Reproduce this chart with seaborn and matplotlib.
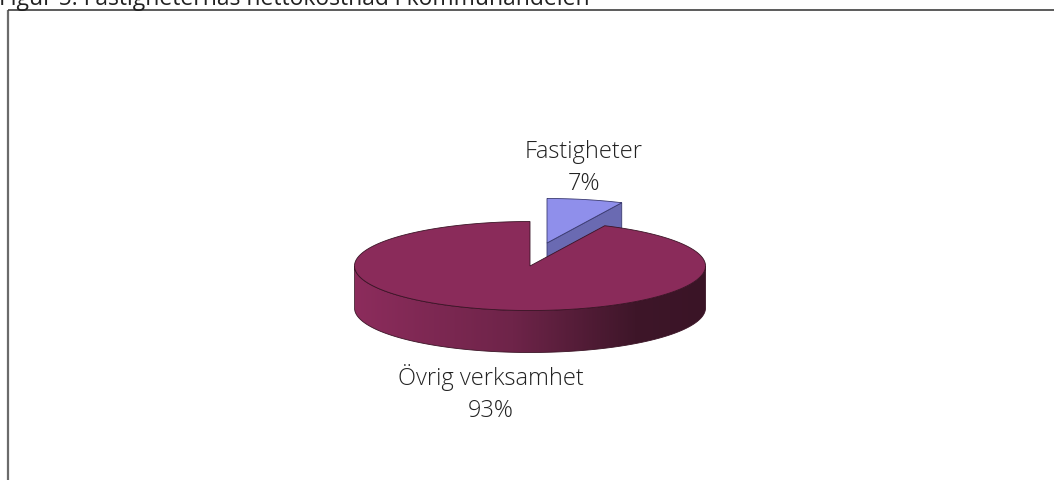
import numpy as np
import matplotlib
matplotlib.use("Agg")
import matplotlib.pyplot as plt
from matplotlib.patches import Polygon
from matplotlib.colors import LinearSegmentedColormap
import seaborn as sns

# ---- data ----
categories = ["Fastigheter", "Övrig verksamhet"]
values = [7, 93]
title = "Figur 5: Fastigheternas nettokostnad i kommunandelen"

sns.set_theme(style="white")
plt.rcParams['font.family'] = ['Open Sans', 'DejaVu Sans']

top_colors = sns.color_palette(["#8F8FEB", "#8A2B5A"])
side_colors = sns.color_palette(["#6A6AB2", "#8A2B5A"])
edge_colors = ["#3A3A70", "#3B1426"]

W, H = 1054, 481
fig = plt.figure(figsize=(W / 100, H / 100), dpi=100)
ax = fig.add_axes([0, 0, 1, 1])
ax.set_xlim(0, W)
ax.set_ylim(H, 0)
ax.axis("off")

# frame
ax.plot([7.5, 7.5], [10.5, H + 5], color="#6b6b6b", lw=1.6, solid_capstyle="butt")
ax.plot([7.5, W + 5], [10.5, 10.5], color="#404040", lw=1.2, solid_capstyle="butt")

# title (partly cut off at the top as in the original)
ax.text(-1, 5, title, fontsize=16.5, color="#222222", ha="left", va="baseline")

# ---- 3D pie geometry ----
cx, cy = 530.0, 267.0
rx, ry = 175.5, 44.5
depth = 42.0
offsets = [(17.0, -23.0), (0.0, 0.0)]

total = float(sum(values))
angles = []
start = 90.0
for v in values:
    sweep = 360.0 * v / total
    angles.append((start, start - sweep))
    start -= sweep


def pt(t, dx=0.0, dy=0.0, z=0.0):
    r = np.deg2rad(t)
    return (cx + dx + rx * np.cos(r), cy + dy - ry * np.sin(r) + z)


def arc(t0, t1, dx=0.0, dy=0.0, z=0.0, n=300):
    ts = np.linspace(t0, t1, n)
    return [pt(t, dx, dy, z) for t in ts]


# --- small slice (back), drawn first ---
i = 0
a0, a1 = angles[i]
dx, dy = offsets[i]
c_top = (cx + dx, cy + dy)
c_bot = (cx + dx, cy + dy + depth)
face = [c_top, pt(a1, dx, dy), pt(a1, dx, dy, depth), c_bot]
ax.add_patch(Polygon(face, closed=True, facecolor=side_colors[0],
                     edgecolor=edge_colors[0], lw=0.6, zorder=2))
topf = [c_top] + arc(a0, a1, dx, dy)
ax.add_patch(Polygon(topf, closed=True, facecolor=top_colors[0],
                     edgecolor=edge_colors[0], lw=0.6, zorder=3))

# --- main slice ---
i = 1
a0, a1 = angles[i]
side = arc(-180, 0) + arc(0, -180, z=depth)
side_patch = Polygon(side, closed=True, facecolor="none",
                     edgecolor=edge_colors[1], lw=0.6, zorder=5)
ax.add_patch(side_patch)
grad_cmap = LinearSegmentedColormap.from_list(
    "side", [(0.0, "#8C2C5C"), (0.45, "#6E2449"), (0.8, "#3E1629"), (1.0, "#3A1426")])
grad = np.linspace(0, 1, 512).reshape(1, -1)
im = ax.imshow(grad, cmap=grad_cmap, aspect="auto",
               extent=(cx - rx, cx + rx, cy + depth + ry + 2, cy - 2),
               zorder=4, interpolation="bilinear")
im.set_clip_path(side_patch)

topm = [(cx, cy)] + arc(a0, a1)
ax.add_patch(Polygon(topm, closed=True, facecolor=top_colors[1],
                     edgecolor=edge_colors[1], lw=0.6, zorder=6))

# ---- labels ----
label_pos = [(584, 158, 190), (491, 385, 417)]
for (x, y1, y2), name, v in zip(label_pos, categories, values):
    ax.text(x, y1, name, fontsize=17, color="#222222", ha="center",
            va="baseline", fontweight="light", zorder=7)
    ax.text(x, y2, f"{v}%", fontsize=17, color="#222222", ha="center",
            va="baseline", fontweight="light", zorder=7)

fig.savefig("out.png", dpi=100, facecolor="white")
